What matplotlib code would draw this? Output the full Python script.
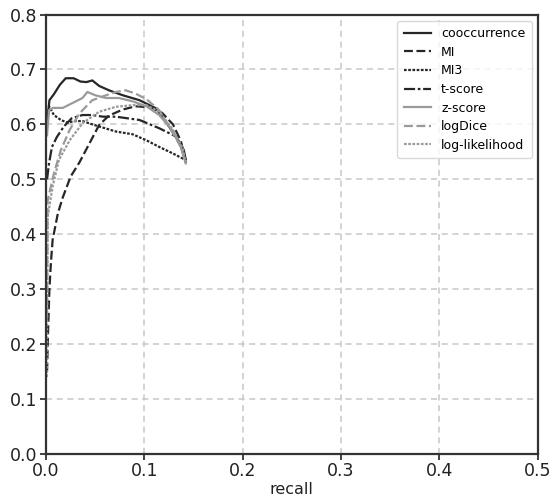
import matplotlib
matplotlib.use("Agg")
import matplotlib.pyplot as plt

names = ["cooccurrence", "MI", "MI3", "t-score", "z-score", "logDice", "log-likelihood"]

# cooccurrence
rec_cooc = [0.001, 0.0034, 0.008, 0.014, 0.020, 0.028, 0.035, 0.041, 0.047, 0.054, 0.064, 0.078,
            0.095, 0.112, 0.125, 0.136, 0.142]
prec_cooc = [0.60, 0.644, 0.655, 0.672, 0.684, 0.684, 0.678, 0.677, 0.680, 0.670, 0.662, 0.653,
             0.644, 0.629, 0.596, 0.566, 0.532]
# MI
rec_mi = [0.001, 0.002, 0.0034, 0.005, 0.0067, 0.012, 0.017, 0.025, 0.034, 0.044, 0.054, 0.064,
          0.078, 0.091, 0.105, 0.118, 0.129, 0.137, 0.142]
prec_mi = [0.15, 0.22, 0.30, 0.35, 0.39, 0.438, 0.467, 0.505, 0.531, 0.565, 0.599, 0.616,
           0.627, 0.633, 0.631, 0.621, 0.600, 0.570, 0.535]
# MI3
rec_mi3 = [0.001, 0.003, 0.008, 0.015, 0.022, 0.028, 0.037, 0.047, 0.058, 0.071, 0.088, 0.102,
           0.115, 0.129, 0.142]
prec_mi3 = [0.60, 0.633, 0.617, 0.608, 0.603, 0.606, 0.606, 0.600, 0.594, 0.587, 0.582, 0.571,
            0.559, 0.547, 0.535]
# t-score
rec_t = [0.001, 0.003, 0.006, 0.011, 0.018, 0.026, 0.037, 0.047, 0.058, 0.071, 0.095, 0.115,
         0.132, 0.140, 0.142]
prec_t = [0.50, 0.529, 0.559, 0.577, 0.596, 0.611, 0.617, 0.617, 0.614, 0.614, 0.608, 0.593,
          0.578, 0.554, 0.535]
# z-score
rec_z = [0.001, 0.003, 0.007, 0.017, 0.027, 0.037, 0.042, 0.050, 0.061, 0.074, 0.088, 0.102,
         0.115, 0.129, 0.137, 0.142]
prec_z = [0.58, 0.626, 0.630, 0.630, 0.639, 0.648, 0.659, 0.653, 0.648, 0.648, 0.642, 0.633,
          0.617, 0.588, 0.559, 0.529]
# logDice
rec_ld = [0.0008, 0.0017, 0.008, 0.015, 0.024, 0.034, 0.047, 0.061, 0.071, 0.081, 0.091, 0.102,
          0.115, 0.127, 0.137, 0.142]
prec_ld = [0.25, 0.462, 0.511, 0.553, 0.590, 0.620, 0.644, 0.653, 0.659, 0.662, 0.656, 0.646,
           0.626, 0.590, 0.559, 0.530]
# log-likelihood
rec_ll = [0.0008, 0.0017, 0.0067, 0.013, 0.024, 0.037, 0.054, 0.071, 0.088, 0.102, 0.115, 0.129,
          0.139, 0.142]
prec_ll = [0.14, 0.432, 0.487, 0.535, 0.571, 0.602, 0.623, 0.632, 0.635, 0.635, 0.623, 0.590,
           0.557, 0.530]

recalls = [rec_cooc, rec_mi, rec_mi3, rec_t, rec_z, rec_ld, rec_ll]
precisions = [prec_cooc, prec_mi, prec_mi3, prec_t, prec_z, prec_ld, prec_ll]

dark = "#262626"
grey = "#9a9a9a"
colors = [dark, dark, dark, dark, grey, grey, grey]
styles = ["-", (0, (4, 1.6)), (0, (1.2, 0.7)), (0, (5, 1.2, 1.2, 1.2)), "-", (0, (4, 1.6)), (0, (1.2, 0.7))]

fig = plt.figure(figsize=(5.55, 5.01), dpi=100)
ax = fig.add_axes([0.083, 0.094, 0.886, 0.877])

for r, p, c, s, n in zip(recalls, precisions, colors, styles, names):
    ax.plot(r, p, color=c, linestyle=s, linewidth=1.6, label=n)

ax.set_xlim(0, 0.5)
ax.set_ylim(0, 0.8)
ax.set_xticks([0.0, 0.1, 0.2, 0.3, 0.4, 0.5])
ax.set_yticks([0.0, 0.1, 0.2, 0.3, 0.4, 0.5, 0.6, 0.7, 0.8])
ax.set_xticklabels(["0.0", "0.1", "0.2", "0.3", "0.4", "0.5"])
ax.set_yticklabels(["0.0", "0.1", "0.2", "0.3", "0.4", "0.5", "0.6", "0.7", "0.8"])
ax.grid(True, color="#c8c8c8", linestyle=(0, (4, 3)), linewidth=1.1)
ax.set_axisbelow(True)
for sp in ax.spines.values():
    sp.set_color("#333333")
    sp.set_linewidth(1.6)
ax.tick_params(axis="both", labelsize=12.5, colors="#333333", width=1.3, length=4,
               labelcolor="#222222", pad=2)
ax.set_xlabel("recall", fontsize=11.5, color="#222222", labelpad=1)

leg = ax.legend(loc="upper right", fontsize=9, frameon=True, handlelength=2.2,
                labelspacing=0.45, borderpad=0.5, fancybox=True)
leg.get_frame().set_edgecolor("#d0d0d0")
leg.get_frame().set_linewidth(1.0)

fig.savefig("out.png", dpi=100)
